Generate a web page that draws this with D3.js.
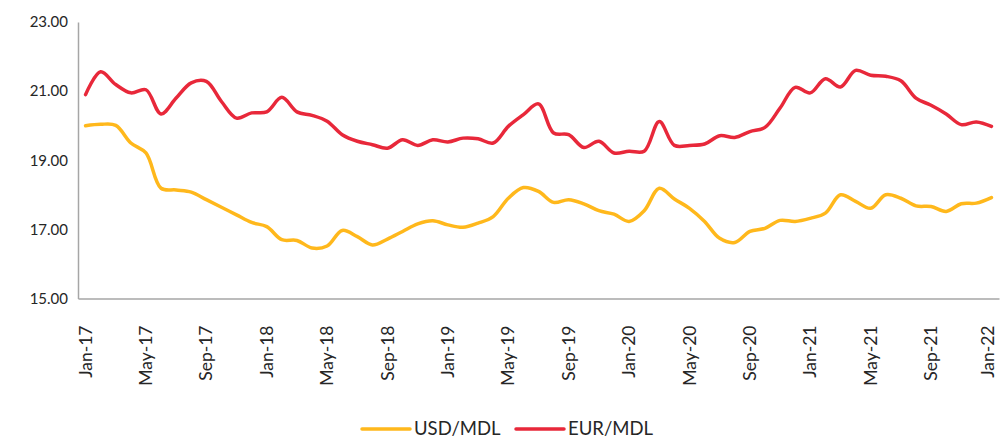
<!DOCTYPE html>
<html>
<head>
<meta charset="utf-8">
<script src="https://cdn.jsdelivr.net/npm/d3@7"></script>
<style>
  html, body { margin: 0; padding: 0; background: #fff; }
  svg { display: block; font-family: "Century Gothic", "URW Gothic", Lato, "DejaVu Sans", sans-serif; }
</style>
</head>
<body>
<svg id="chart" width="1000" height="440"></svg>
<script>
// ---- Data ----
const months = ["Jan","Feb","Mar","Apr","May","Jun","Jul","Aug","Sep","Oct","Nov","Dec"];
const years = ["17","18","19","20","21","22"];
const categories = [];
years.forEach(y => months.forEach(m => { if (categories.length < 61) categories.push(m + "-" + y); }));

const usdMdl = [20.00,20.04,20.01,19.50,19.21,18.19,18.14,18.08,17.86,17.64,17.42,17.20,
                17.08,16.70,16.68,16.46,16.52,16.97,16.79,16.55,16.72,16.94,17.16,17.25,
                17.13,17.06,17.18,17.37,17.90,18.21,18.10,17.78,17.86,17.74,17.54,17.44,
                17.23,17.54,18.19,17.88,17.61,17.23,16.74,16.62,16.94,17.03,17.26,17.23,
                17.32,17.47,18.00,17.81,17.61,18.00,17.90,17.68,17.66,17.52,17.74,17.76,
                17.92];
const eurMdl = [20.90,21.56,21.19,20.95,21.04,20.34,20.80,21.24,21.28,20.70,20.22,20.37,
                20.40,20.82,20.40,20.30,20.13,19.74,19.55,19.45,19.35,19.59,19.43,19.59,
                19.53,19.64,19.62,19.50,19.98,20.32,20.63,19.79,19.74,19.37,19.55,19.21,
                19.26,19.26,20.12,19.43,19.43,19.47,19.71,19.66,19.83,19.95,20.51,21.11,
                20.95,21.36,21.12,21.60,21.46,21.43,21.30,20.80,20.59,20.34,20.03,20.11,
                19.98];
const yTicks = [15, 17, 19, 21, 23];
const xTickLabels = categories.filter((c, i) => i % 4 === 0);
const seriesNames = ["USD/MDL", "EUR/MDL"];
const seriesColors = ["#FFB81C", "#E8283A"];

// ---- Layout ----
const FONT = "\"Century Gothic\", \"URW Gothic\", Lato, \"DejaVu Sans\", sans-serif";
const svg = d3.select("#chart");
const margin = { left: 78, right: 1, top: 22, bottom: 141.5 };
const W = 1000, H = 440;
const x = d3.scaleBand().domain(categories).range([margin.left, W - margin.right]).paddingInner(0).paddingOuter(0);
const y = d3.scaleLinear().domain([15, 23]).range([H - margin.bottom, margin.top]);

// Y axis
const yAxis = d3.axisLeft(y).tickValues(yTicks).tickFormat(d3.format(".2f")).tickSize(0).tickPadding(10);
const gy = svg.append("g").attr("transform", `translate(${margin.left},0)`).call(yAxis);
gy.select(".domain").attr("stroke", "#A6A6A6").attr("stroke-width", 1.5);
gy.selectAll("text").attr("font-size", 15).attr("fill", "#262626").attr("font-family", FONT);

// X axis
const xAxis = d3.axisBottom(x).tickValues(xTickLabels).tickSize(0).tickPadding(0);
const gx = svg.append("g").attr("transform", `translate(0,${y(15)})`).call(xAxis);
gx.select(".domain").attr("stroke", "#A6A6A6").attr("stroke-width", 1.5);
const lastLabel = xTickLabels[xTickLabels.length - 1];
gx.selectAll("text")
  .attr("font-size", 17.5).attr("fill", "#262626").attr("font-family", FONT)
  .attr("text-anchor", "end")
  .attr("transform", d => `translate(${d === lastLabel ? -4 : 0},27) rotate(-90)`)
  .attr("x", 0).attr("y", 0).attr("dy", "0.35em");

// Lines
const line = d3.line()
  .x((d, i) => x(categories[i]) + x.bandwidth() / 2)
  .y(d => y(d))
  .curve(d3.curveCatmullRom.alpha(0.5));

[usdMdl, eurMdl].forEach((s, k) => {
  svg.append("path").datum(s)
    .attr("d", line)
    .attr("fill", "none")
    .attr("stroke", seriesColors[k])
    .attr("stroke-width", 3.5)
    .attr("stroke-linejoin", "round")
    .attr("stroke-linecap", "round");
});

// Legend
const legend = svg.append("g").attr("transform", "translate(362,429)");
const legendX = [0, 154];
seriesNames.forEach((n, k) => {
  const g = legend.append("g").attr("transform", `translate(${legendX[k]},0)`);
  g.append("line").attr("x1", 0).attr("x2", 48).attr("y1", 0).attr("y2", 0)
    .attr("stroke", seriesColors[k]).attr("stroke-width", 3.5).attr("stroke-linecap", "round");
  g.append("text").attr("x", 52).attr("y", 0).attr("dy", "0.35em")
    .attr("font-size", 18.5).attr("fill", "#262626").text(n);
});
</script>
</body>
</html>
